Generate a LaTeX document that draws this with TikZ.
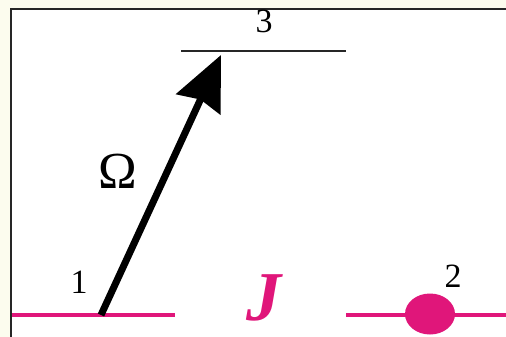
\documentclass[tikz,border=0pt]{standalone}
\usepackage{fontspec}
\setmainfont{Liberation Serif}
\usetikzlibrary{arrows.meta,shapes.geometric}
\definecolor{levelpink}{RGB}{224,22,122}
\definecolor{paper}{RGB}{252,252,238}
\tikzset{
  level/.style={line width=3.5pt,levelpink},
  digit/.style={font=\fontsize{34}{36}\selectfont,inner sep=0pt}
}
\begin{document}
\begin{tikzpicture}[x=1pt,y=-1pt]
			\useasboundingbox (0,0) rectangle (506,337);
			\fill[paper] (0,0) rectangle (506,337);
			\draw[line width=2pt,draw=black!85,fill=white] (11,9) rectangle (530,360);
			% levels
			\coordinate (l1a) at (12,315);
			\coordinate (l1b) at (175,315);
			\coordinate (l2a) at (346,315);
			\coordinate (l2b) at (506,315);
			\coordinate (l3a) at (181,51);
			\coordinate (l3b) at (346,51);
			\draw[level] (l1a) -- (l1b);
			\draw[level] (l2a) -- (l2b);
			\draw[line width=2pt,black!85] (l3a) -- (l3b);
			\node[ellipse,fill=levelpink,minimum width=50pt,minimum height=41pt,inner sep=0pt] (dot) at (430,314) {};
			% labels
			\node[digit] (n1) at (79,282) {1};
			\node[digit] (n2) at (453,276) {2};
			\node[digit] (n3) at (264,21) {3};
			\node[font=\fontsize{52}{56}\selectfont,inner sep=0pt] (om) at (118,171) {Ω};
			\node[font=\fontsize{70}{74}\selectfont\bfseries\itshape,levelpink,inner sep=0pt] (jj) at (264,298) {J};
			% transition
			\coordinate (from) at (101,315);
			\coordinate (to) at (221,55);
			\draw[line width=7pt,-{Stealth[length=54pt,width=48pt,inset=5pt]}] (from) -- (to);
		\end{tikzpicture}
\end{document}
